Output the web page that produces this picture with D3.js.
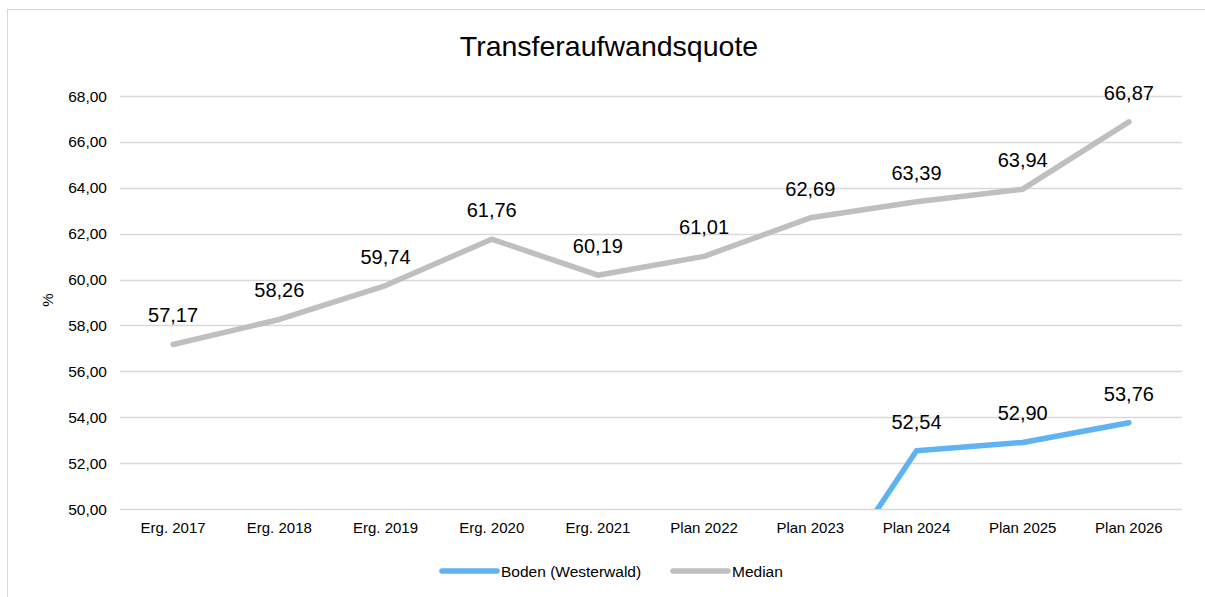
<!DOCTYPE html>
<html>
<head>
<meta charset="utf-8">
<script src="https://cdn.jsdelivr.net/npm/d3@7"></script>
<style>
  body { margin: 0; background: #fff; }
  text { font-family: "Liberation Sans", Arial, sans-serif; fill: #000; }
</style>
</head>
<body>
<div id="chart"></div>
<script>
var categories = ["Erg. 2017", "Erg. 2018", "Erg. 2019", "Erg. 2020", "Erg. 2021",
                  "Plan 2022", "Plan 2023", "Plan 2024", "Plan 2025", "Plan 2026"];
// Boden values before Plan 2024 lie below the axis minimum and are clipped
var bodenValues = [null, null, null, null, null, null, 45.6, 52.54, 52.90, 53.76];
var medianValues = [57.17, 58.26, 59.74, 61.76, 60.19, 61.01, 62.69, 63.39, 63.94, 66.87];
var yTicks = [50, 52, 54, 56, 58, 60, 62, 64, 66, 68];
var seriesNames = ["Boden (Westerwald)", "Median"];

var w = 1205, h = 597;
var plotLeft = 120, plotRight = 1182, plotTop = 96, plotBottom = 509;
var blue = "#5fb3f2", grey = "#bfbfbf";
var fmt = function(v) { return d3.format(".2f")(v).replace(".", ","); };

var svg = d3.select("#chart").append("svg")
  .attr("width", w)
  .attr("height", h);

// chart border
svg.append("rect")
  .attr("x", 7.5).attr("y", 9.5)
  .attr("width", w).attr("height", h)
  .attr("fill", "none")
  .attr("stroke", "#d9d9d9");

svg.append("text")
  .attr("x", 609).attr("y", 56)
  .attr("text-anchor", "middle")
  .attr("font-size", "28.5px")
  .text("Transferaufwandsquote");

var xScale = d3.scaleBand()
  .domain(categories)
  .range([plotLeft, plotRight]);

var yScale = d3.scaleLinear()
  .domain([50, 68])
  .range([plotBottom, plotTop]);

var cx = function(i) { return xScale(categories[i]) + xScale.bandwidth() / 2; };

// gridlines
svg.selectAll(".grid")
  .data(yTicks)
  .enter()
  .append("line")
  .attr("x1", plotLeft).attr("x2", plotRight)
  .attr("y1", function(d) { return Math.round(yScale(d)) + 0.5; })
  .attr("y2", function(d) { return Math.round(yScale(d)) + 0.5; })
  .attr("stroke", "#d9d9d9")
  .attr("stroke-width", 1.3);

// y tick labels
svg.selectAll(".ytick")
  .data(yTicks)
  .enter()
  .append("text")
  .attr("x", 107)
  .attr("y", function(d) { return yScale(d) + 5.5; })
  .attr("text-anchor", "end")
  .attr("font-size", "15.5px")
  .text(fmt);

// x labels
svg.selectAll(".xtick")
  .data(categories)
  .enter()
  .append("text")
  .attr("x", function(d) { return xScale(d) + xScale.bandwidth() / 2; })
  .attr("y", 533)
  .attr("text-anchor", "middle")
  .attr("font-size", "15px")
  .text(function(d) { return d; });

svg.append("text")
  .attr("transform", "translate(53,300) rotate(-90)")
  .attr("text-anchor", "middle")
  .attr("font-size", "15px")
  .text("%");

svg.append("clipPath")
  .attr("id", "plotclip")
  .append("rect")
  .attr("x", plotLeft).attr("y", 0)
  .attr("width", plotRight - plotLeft).attr("height", plotBottom);

var line = d3.line()
  .defined(function(d) { return d != null; })
  .x(function(d, i) { return cx(i); })
  .y(function(d) { return yScale(d); });

var series = [
  { name: seriesNames[0], values: bodenValues, color: blue },
  { name: seriesNames[1], values: medianValues, color: grey }
];

series.forEach(function(s) {
  svg.append("path")
    .datum(s.values)
    .attr("clip-path", "url(#plotclip)")
    .attr("fill", "none")
    .attr("stroke", s.color)
    .attr("stroke-width", 5.5)
    .attr("stroke-linejoin", "round")
    .attr("stroke-linecap", "round")
    .attr("d", line);

  svg.selectAll(null)
    .data(s.values.map(function(v, i) { return { v: v, i: i }; })
      .filter(function(d) { return d.v != null && d.v >= 50; }))
    .enter()
    .append("text")
    .attr("x", function(d) { return cx(d.i); })
    .attr("y", function(d) { return yScale(d.v) - 22; })
    .attr("text-anchor", "middle")
    .attr("font-size", "20px")
    .text(function(d) { return fmt(d.v); });
});

// legend
var legendX = [442, 673];
series.forEach(function(s, i) {
  svg.append("line")
    .attr("x1", legendX[i]).attr("x2", legendX[i] + 55)
    .attr("y1", 571).attr("y2", 571)
    .attr("stroke", s.color)
    .attr("stroke-width", 5.5)
    .attr("stroke-linecap", "round");
  svg.append("text")
    .attr("x", legendX[i] + 59)
    .attr("y", 576.5)
    .attr("font-size", "15.5px")
    .text(s.name);
});
</script>
</body>
</html>
